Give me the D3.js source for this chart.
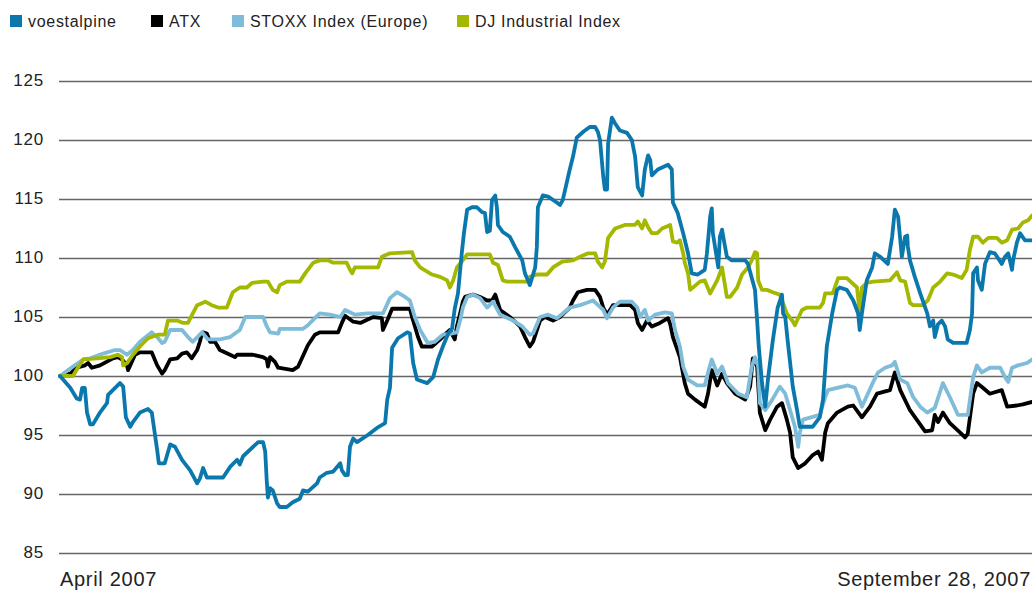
<!DOCTYPE html>
<html><head><meta charset="utf-8">
<script src="https://cdn.jsdelivr.net/npm/d3@7"></script>
<style>body{margin:0;background:#fff}svg{display:block}text{font-family:"Liberation Sans",Arial,sans-serif;fill:#222}</style>
</head><body><svg id="c" width="1032" height="592"></svg>
<script>
// x = days since 1 April 2007, y = index (start = 100)
const seriesNames = ["voestalpine","ATX","STOXX Index (Europe)","DJ Industrial Index"];
const seriesColors = ["#0a78ad","#000000","#7fbcd9","#a5b800"];
const yTicks = [85,90,95,100,105,110,115,120,125];
const xLabels = ["April 2007","September 28, 2007"];

const voest = [[0,100],[1.9,99],[3.1,98.1],[3.7,98],[4.1,99],[4.6,99],[5,96.9],[5.6,95.9],[6.1,95.9],[7.4,96.9],[8.7,97.7],[8.9,98.4],[11.1,99.4],[11.7,99.1],[12.2,96.5],[13,95.7],[13.5,96.1],[14.8,96.9],[16.3,97.2],[17,96.9],[18,93.7],[18.3,92.6],[19.4,92.6],[20.4,94.2],[21.3,94],[22.6,92.9],[24.1,92],[25.4,90.9],[25.9,91.3],[26.5,92.2],[27.2,91.4],[30.2,91.4],[31.5,92.3],[32.8,92.9],[33.3,92.5],[33.9,93.2],[36.7,94.4],[37.6,94.4],[38,93.6],[38.3,91],[38.5,89.7],[38.9,90.5],[39.4,90.3],[40.2,89.2],[40.7,88.9],[42,88.9],[43.1,89.3],[44.4,89.6],[45,90.3],[45.9,90.2],[47.6,90.9],[48.1,91.4],[49.4,91.8],[50.6,91.9],[51.9,92.6],[52.2,92],[52.8,91.6],[53.3,91.6],[53.7,94],[54.3,94.7],[55,94.4],[57,95],[58.7,95.6],[60.2,96],[60.6,98],[61.1,99],[61.5,102.4],[62.6,103.2],[64.3,103.7],[64.8,103.6],[65.4,101.1],[66.1,99.7],[68,99.4],[69.1,99.9],[70,101.4],[70.9,102.5],[71.9,103.6],[72.6,104],[72.8,104.7],[73.1,105.7],[73.7,107],[74.4,110.4],[74.8,112.1],[75.4,114.1],[76.3,114.3],[77.2,114.3],[78.1,113.9],[78.7,113.8],[79.1,112.2],[79.6,112.3],[80,114.9],[80.6,115.3],[80.9,114.3],[81.1,112.8],[82,112.2],[83.3,111.8],[84.3,110.9],[85.6,109.8],[86.1,108.7],[87,107.7],[88,109.2],[88.3,110.9],[88.5,114.3],[89.4,115.3],[90.4,115.2],[92,114.7],[92.6,114.5],[93.1,114.9],[94.4,117.5],[95,118.6],[95.7,120.2],[96.9,120.7],[98.1,121.1],[99.1,121.1],[99.6,120.7],[100,120],[100.6,116.9],[100.9,115.8],[101.3,115.8],[101.5,119.7],[102.2,121.9],[102.8,121.4],[103.7,120.8],[105,120.6],[105.9,120],[106.5,118.6],[107,116],[107.8,115.3],[108.3,117.5],[108.9,118.7],[109.3,118.3],[109.6,117],[110.7,117.5],[112.6,117.9],[113.3,117.5],[113.5,114.7],[114.4,113.8],[115.4,112.1],[116.3,110.4],[117,108.7],[118.1,108.6],[119.4,109],[119.8,110.4],[120.4,113.5],[120.7,114.2],[120.9,112.1],[121.7,109.8],[121.9,109.2],[122.2,111.8],[122.6,112.4],[123.1,111.1],[123.5,110.1],[124.4,109.8],[126.9,109.8],[127.4,109.5],[128.7,107.3],[129.1,104.7],[129.4,102.5],[130,99.4],[130.6,97.4],[131.1,99.7],[132,103],[132.9,105.8],[133.7,106.9],[133.9,105.3],[134.3,105],[134.8,102.8],[135.7,99.1],[136.5,97.1],[137,95.7],[139.4,95.7],[140.7,96.5],[141.3,98],[142,102.5],[143,105.3],[143.9,107.3],[144.4,107.5],[145.7,107.3],[146.9,106.4],[147.8,105.3],[148.1,103.9],[148.5,105.3],[149.4,108.1],[150.4,109.2],[150.9,110.4],[151.9,110.1],[153.3,109.5],[154.1,111.8],[154.6,114.1],[155.2,113.5],[155.9,110.1],[156.5,111.8],[156.9,111.9],[157,111],[157.4,109.8],[158.3,108.4],[159.3,107],[160.6,105.3],[161.1,104.2],[161.7,104.7],[162,103.3],[162.6,104.4],[163.3,104.7],[163.9,104.2],[164.4,103.1],[165.4,102.8],[167.9,102.8],[168.5,103.9],[168.9,105.3],[169.1,108.7],[169.8,109.2],[170,108.1],[170.7,107.3],[171.3,109.5],[172.2,110.5],[173.1,110.4],[174.4,109.5],[175,110.1],[175.6,110.4],[176.3,109],[176.5,109.8],[177.2,111.3],[177.8,112.1],[178.7,111.5],[180,111.5]];

const atx = [[0,100],[1.9,100.2],[3.1,100.7],[4.6,100.9],[5.2,101.1],[5.9,100.7],[7.4,100.9],[9.8,101.5],[10.7,101.6],[11.5,101.4],[12.4,100.9],[12.6,100.5],[13,100.9],[13.9,101.8],[14.8,102],[17,102],[18,100.9],[18.9,100.2],[19.4,100.5],[20.4,101.4],[21.7,101.5],[22.6,101.9],[23.5,102],[24.4,101.5],[25.4,102.2],[25.9,102.9],[26.3,103.6],[26.5,103.7],[27.2,103.6],[27.8,102.9],[28.7,102.9],[29.6,102.2],[31.5,101.8],[32.4,101.6],[32.8,101.8],[35.7,101.8],[37.6,101.6],[38.3,101.4],[38.5,100.8],[38.9,101.6],[39.8,101.2],[40.4,100.7],[43.1,100.5],[44.1,100.8],[44.8,101.5],[45.9,102.6],[47.2,103.5],[48.1,103.7],[51.5,103.7],[52.2,104.5],[52.8,105.1],[54.3,104.6],[55.6,104.5],[58,105],[59.6,104.9],[59.8,103.9],[60.6,104.7],[61.5,105.7],[64.8,105.7],[65.2,105],[66.3,103.3],[67,102.5],[68.9,102.5],[70.4,103.1],[71.7,103.7],[72.2,103.9],[73.1,103.1],[73.5,104.2],[74.1,105.3],[74.6,106.3],[75,106.7],[76.5,106.9],[77.8,106.7],[79.1,106.4],[80,106.4],[80.6,106.9],[81.5,105.6],[83.3,105],[85.2,104.2],[86.1,103.3],[87,102.5],[87.6,102.9],[88.9,104.7],[89.8,105],[91.3,104.7],[92.6,105],[94.4,105.8],[95,106.4],[95.9,107.1],[97.6,107.3],[99.1,107.3],[100,106.7],[100.6,105.8],[101.3,105.2],[102.4,106],[105.6,106],[106.5,105.6],[107,104.5],[107.8,103.9],[108.7,104.7],[109.6,104.2],[111.1,104.5],[112.6,104.9],[113,104.4],[113.5,103.3],[114.8,101.6],[115.7,99.4],[116.3,98.5],[117.6,98],[119.4,97.4],[120,98.5],[120.7,100.5],[121.7,99.2],[122.6,100.2],[123.5,99.4],[125,98.5],[126.9,98],[127.8,99.1],[128.3,101.5],[129.1,100.8],[129.6,96.9],[130.6,95.4],[131.5,96.3],[132.8,97.4],[133.7,97.7],[134.6,96.3],[135.2,95.2],[135.7,93.1],[136.7,92.2],[138,92.6],[139.4,93.3],[140.4,93.6],[141.1,92.9],[141.7,95.2],[142.2,96],[143.9,96.9],[145.9,97.4],[146.9,97.5],[148.5,96.5],[150,97.4],[151.3,98.5],[153.7,98.8],[154.6,100.3],[155.6,98.8],[157.4,97.1],[160.2,95.3],[161.5,95.4],[162,96.7],[162.6,96.1],[163.5,96.9],[164.8,96],[166.7,95.2],[167.6,94.8],[168.1,95.1],[169.1,98.5],[169.8,99.4],[170.9,99],[172.2,98.5],[174.4,98.8],[175.4,97.4],[177.2,97.5],[178.3,97.6],[180,97.8]];

const stoxx = [[0,100],[2.4,100.8],[4.3,101.4],[5.6,101.5],[8,101.9],[10.2,102.2],[11.1,102.2],[12.4,101.8],[13.5,102.2],[14.8,102.9],[17,103.7],[18,103.3],[18.9,102.8],[19.4,102.9],[20.4,103.9],[22.6,103.9],[23.7,103.3],[24.6,102.9],[26.3,103.7],[27.4,103.1],[29.6,103.1],[31.5,103.3],[33.3,103.9],[34.3,105],[37.6,105],[38.3,104.2],[38.9,103.7],[40.4,103.6],[40.7,104],[45,104],[45.9,104.3],[47.2,104.9],[48.1,105.3],[50,105.2],[51.9,105],[52.8,105.6],[53.7,105.4],[54.6,105.2],[56.9,105.3],[59.8,105.3],[61.1,106.6],[62.4,107.1],[63.9,106.7],[64.8,106.4],[65.7,105],[66.7,103.9],[68.1,102.8],[69.4,102.9],[70.9,103.5],[72.6,103.6],[73.5,103.7],[74.1,104.7],[74.6,105.8],[75.4,106.7],[76.5,106.9],[77.8,106.6],[79.1,105.8],[80.2,106.3],[80.9,105.7],[81.5,105.2],[83.9,104.7],[85.6,104.2],[87,103.5],[87.6,103.6],[88.9,105],[90.4,105.2],[92,104.9],[93.1,105.3],[94.4,105.8],[96.3,106],[98.7,106.4],[100.6,105.6],[101.3,104.9],[102.4,105.8],[103.7,106.3],[105.9,106.3],[106.9,105.8],[107.4,105],[108.3,105.6],[108.9,104.7],[110.2,105.2],[112,105.4],[113.3,105.3],[113.9,103.9],[114.8,102.5],[115.4,100.8],[116.3,99.7],[118,99.2],[119.4,99.2],[120,100.3],[120.7,101.4],[121.7,100.2],[122.6,100.8],[123.7,99.4],[125.6,98.5],[127.2,98.2],[128.1,100.8],[128.7,101.6],[129.3,100.8],[129.6,97.7],[130.6,97.1],[131.9,98],[133.3,99.1],[134.3,98.5],[135.2,97.1],[136.1,95.7],[136.7,94],[137,95.2],[137.6,96.3],[140.7,96.7],[141.7,98.2],[142.2,98.8],[143.9,99],[145.9,99.2],[147.2,99],[148.5,97.4],[149.6,98.5],[150.6,99.5],[151.5,100.3],[152.8,100.7],[154.1,100.9],[154.6,101.2],[155.6,99.7],[156.9,99.4],[158,98.2],[159.3,97.4],[160.6,96.9],[162,97.3],[163.5,99.4],[164.8,98.2],[166.3,96.7],[168.1,96.7],[169.1,99.9],[169.8,100.9],[170.7,100.3],[172.2,100.7],[174.1,100.7],[175,99.9],[175.6,99.5],[176.3,100.7],[177.4,100.9],[179.1,101.1],[180,101.4]];

const dj = [[0,100],[2.4,100],[3.3,100.7],[4.3,101.4],[6.9,101.5],[9.3,101.6],[10.7,101.8],[11.5,101.6],[11.7,100.9],[12.4,101.1],[13.5,101.8],[14.8,102.5],[16.3,103.2],[18.1,103.5],[19.4,103.5],[20,104.7],[21.7,104.7],[22.8,104.5],[23.7,104.5],[24.6,105.3],[25.4,106],[26.9,106.3],[28.1,106],[29.3,105.8],[30.9,105.8],[32,107.1],[33.3,107.5],[34.6,107.5],[35.6,107.9],[37.6,108],[38.5,108],[39.4,107.3],[40.2,107.1],[40.7,107.7],[42,108],[44.4,108],[45.4,108.7],[46.9,109.6],[48.1,109.8],[49.6,109.8],[50.6,109.6],[53.1,109.6],[53.7,109],[54.1,108.7],[54.6,109.2],[58.9,109.2],[59.6,110.1],[61.1,110.4],[65.2,110.5],[65.7,109.8],[66.7,109.2],[68.9,108.6],[70.4,108.4],[71.7,108.1],[72.2,107.5],[72.8,108.1],[73.5,109.2],[74.4,109.7],[75.4,110.3],[79.6,110.3],[80.2,109.6],[81.1,109.4],[82,108.1],[82.8,108],[86.5,108],[87,108.4],[88.3,108.6],[90.2,108.6],[91.3,109.2],[93,109.7],[95,109.8],[96.3,110.1],[97.8,110.4],[99.1,110.4],[99.6,109.7],[100.4,109.2],[100.9,109.7],[101.5,111.7],[102.8,112.5],[104.6,112.8],[106.5,112.8],[107,113.1],[107.8,112.5],[108.3,113.2],[108.9,112.6],[109.6,112.1],[110.6,112.1],[111.5,112.5],[113,112.8],[113.5,111.4],[114.3,111.3],[114.8,111.5],[115.4,110.4],[115.7,109.6],[116.3,108.7],[116.7,107.3],[118.5,108],[119.4,108.1],[120.4,107],[121.7,108.1],[122.6,109.2],[123.5,106.7],[124.1,106.7],[125.4,107.5],[126.3,108.6],[127.4,109.2],[128.1,109.8],[128.7,110.5],[129.1,110.4],[129.3,108.1],[130,107.3],[130.9,107.3],[132,107.1],[133.3,106.9],[134.6,105.3],[135.6,104.7],[136.1,104.3],[136.5,104.7],[137.4,105.6],[138.3,105.8],[140.7,105.8],[141.3,106.2],[141.7,107],[143.1,107],[144.1,108.3],[145.7,108.3],[147.6,107.5],[148.1,105.3],[148.5,107.5],[149.4,107.9],[150.6,108],[153.7,108.1],[155,108.8],[155.6,108.1],[156.5,108],[157.4,106.2],[158,106],[159.8,106],[160.7,106.4],[161.7,107.5],[163,108],[164.3,108.7],[165.4,108.6],[167,108.3],[167.9,109],[168.5,110.7],[169.1,111.8],[170,111.8],[170.9,111.3],[171.9,111.7],[173.5,111.7],[174.4,111.3],[175.4,111.5],[176.3,112.4],[177.4,112.5],[178.3,113],[179.3,113.2],[180,113.6]];

const svg = d3.select("#c");
const x = d3.scaleLinear().domain([0,180]).range([60,1032]);
const y = d3.scaleLinear().domain([85,125]).range([553,81]);

// grid + y labels
const g = svg.append("g");
g.selectAll("line.grid").data(yTicks).join("line")
  .attr("x1",59).attr("x2",1032)
  .attr("y1",d=>Math.round(y(d))+0.5).attr("y2",d=>Math.round(y(d))+0.5)
  .attr("stroke","#666").attr("stroke-width",1.4);
g.selectAll("text.yl").data(yTicks).join("text")
  .attr("x",44).attr("y",d=>y(d)+4.5).attr("text-anchor","end")
  .attr("font-size",17).attr("letter-spacing",0.8).text(d=>d);

// lines
const line = d3.line().x(d=>x(d[0])).y(d=>y(d[1]));
const drawOrder = [[atx,1],[stoxx,2],[dj,3],[voest,0]];
drawOrder.forEach(([data,i])=>{
  svg.append("path").datum(data).attr("d",line)
    .attr("fill","none").attr("stroke",seriesColors[i])
    .attr("stroke-width",3.8).attr("stroke-linejoin","round").attr("stroke-linecap","round");
});

// x labels
svg.append("text").attr("x",60).attr("y",586).attr("font-size",20).attr("letter-spacing",0.7).text(xLabels[0]);
svg.append("text").attr("x",1031).attr("y",586).attr("font-size",20).attr("letter-spacing",0.7).attr("text-anchor","end").text(xLabels[1]);

// legend
const legX = [10,151,232,457];
seriesNames.forEach((n,i)=>{
  svg.append("rect").attr("x",legX[i]).attr("y",15).attr("width",12).attr("height",12).attr("fill",seriesColors[i]);
  svg.append("text").attr("x",legX[i]+18).attr("y",27).attr("font-size",16).attr("letter-spacing",0.7).text(n);
});
</script></body></html>
